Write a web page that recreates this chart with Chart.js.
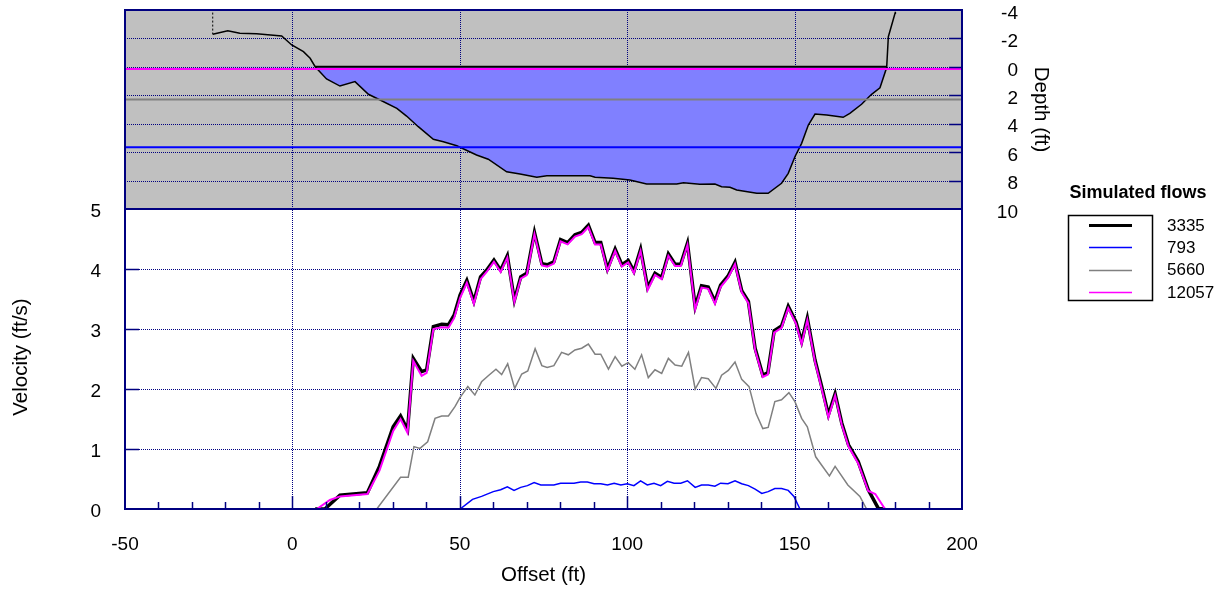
<!DOCTYPE html>
<html>
<head>
<meta charset="utf-8">
<script src="https://cdn.jsdelivr.net/npm/chart.js@4.4.0/dist/chart.umd.min.js"></script>
<style>
html,body{margin:0;padding:0;background:#fff;}
#wrap{position:relative;width:1228px;height:590px;}
</style>
</head>
<body>
<div id="wrap"><canvas id="c" width="1228" height="590"></canvas></div>
<script>
// ---------------- DATA ----------------
const flowLabels = ['3335', '793', '5660', '12057'];
const flowColors = ['#000000', '#0000FF', '#808080', '#FF00FF'];

// Cross-section bed profile (offset ft, depth ft)
const bedOffset = [-23.8, -19.3, -15.7, -10.7, -3.2, -0.2, 3.3, 5.3, 6.8, 10.2,
  14.2, 18.7, 22.7, 26.2, 31.2, 34.1, 37.6, 42.1, 45.1, 49.1,
  55.0, 58.5, 64.0, 68.0, 73.0, 76.0, 88.9, 90.4, 95.8, 100.8,
  105.8, 114.8, 116.8, 121.7, 126.2, 128.2, 130.7, 132.7, 138.7, 142.1,
  146.1, 148.1, 150.1, 152.1, 154.1, 156.1, 159.6, 164.5, 166.5, 170.0,
  173.0, 175.5, 177.5, 178.0, 180.0, 180.1];
const bedDepth = [-2.29, -2.54, -2.36, -2.33, -2.17, -1.54, -1.07, -0.60, -0.01, 0.85,
  1.35, 1.04, 1.93, 2.33, 2.92, 3.46, 4.21, 5.10, 5.27, 5.55,
  6.20, 6.50, 7.38, 7.54, 7.77, 7.66, 7.66, 7.77, 7.84, 7.96,
  8.24, 8.24, 8.15, 8.26, 8.24, 8.43, 8.47, 8.66, 8.90, 8.90,
  8.19, 7.49, 6.32, 5.38, 4.09, 3.32, 3.39, 3.55, 3.27, 2.63,
  1.93, 1.47, 0.05, -2.12, -3.77, -3.88];

// Left bank marker (dotted)
const bankOffset = [-23.8, -23.8];
const bankDepth = [-4.1, -2.29];

// Water surface depths
const wsEdges3335 = [6.8, 177.5];
const ws3335 = 0;
const ws793 = 5.65;
const ws5660 = 2.3;
const ws12057 = 0.15;
const fullSpan = [-50, 200];

// Velocities
const velX3335 = [6.8, 9.7, 14.2, 22.4, 26.0, 30.1, 32.3, 34.4, 36.1, 38.6,
  40.1, 42.1, 44.6, 46.6, 48.3, 50.1, 52.1, 54.2, 56.2, 58.0,
  60.2, 62.2, 64.2, 66.3, 68.2, 70.0, 72.3, 74.5, 76.1, 78.1,
  80.1, 82.2, 84.4, 86.4, 88.4, 90.4, 92.1, 94.1, 96.4, 98.4,
  100.3, 102.0, 104.0, 106.1, 108.3, 110.3, 112.3, 114.3, 116.0, 118.0,
  120.3, 122.2, 124.2, 126.2, 127.9, 130.1, 132.2, 134.2, 136.2, 138.2,
  140.5, 142.0, 143.9, 146.1, 148.1, 150.4, 152.1, 153.8, 156.1, 158.1,
  160.1, 162.1, 164.1, 166.1, 169.0, 172.0, 175.0, 177.0];
const vel3335 = [0, 0, 0.23, 0.27, 0.71, 1.37, 1.55, 1.32, 2.51, 2.29,
  2.32, 3.04, 3.08, 3.07, 3.23, 3.57, 3.81, 3.46, 3.87, 3.98,
  4.15, 3.98, 4.22, 3.48, 3.87, 3.93, 4.61, 4.09, 4.07, 4.12,
  4.49, 4.44, 4.57, 4.61, 4.73, 4.44, 4.44, 4.00, 4.33, 4.07,
  4.14, 3.96, 4.33, 3.69, 3.93, 3.86, 4.25, 4.08, 4.08, 4.43,
  3.37, 3.72, 3.70, 3.46, 3.73, 3.88, 4.11, 3.64, 3.46, 2.68,
  2.23, 2.27, 2.97, 3.05, 3.38, 3.12, 2.79, 3.18, 2.48, 2.04,
  1.57, 1.92, 1.43, 1.07, 0.79, 0.32, 0.01, 0];

const velX12057 = [7.3, 11.2, 14.2, 22.4, 26.0, 30.1, 32.3, 34.4, 36.1, 38.6,
  40.1, 42.1, 44.6, 46.6, 48.3, 50.1, 52.1, 54.2, 56.2, 58.0,
  60.2, 62.2, 64.2, 66.3, 68.2, 70.0, 72.3, 74.5, 76.1, 78.1,
  80.1, 82.2, 84.4, 86.4, 88.4, 90.4, 92.1, 94.1, 96.4, 98.4,
  100.3, 102.0, 104.0, 106.1, 108.3, 110.3, 112.3, 114.3, 116.0, 118.0,
  120.3, 122.2, 124.2, 126.2, 127.9, 130.1, 132.2, 134.2, 136.2, 138.2,
  140.5, 142.0, 143.9, 146.1, 148.1, 150.4, 152.1, 153.8, 156.1, 158.1,
  160.1, 162.1, 164.1, 166.1, 169.0, 172.0, 174.1, 177.0];
const vel12057 = [0, 0.15, 0.21, 0.25, 0.64, 1.30, 1.50, 1.27, 2.47, 2.22,
  2.27, 3.00, 3.03, 3.02, 3.18, 3.52, 3.77, 3.42, 3.83, 3.95,
  4.12, 3.95, 4.19, 3.45, 3.84, 3.90, 4.58, 4.06, 4.04, 4.09,
  4.46, 4.41, 4.54, 4.58, 4.70, 4.41, 4.41, 3.97, 4.30, 4.04,
  4.11, 3.93, 4.30, 3.65, 3.90, 3.83, 4.22, 4.05, 4.05, 4.40,
  3.33, 3.69, 3.67, 3.42, 3.70, 3.85, 4.08, 3.61, 3.43, 2.65,
  2.20, 2.24, 2.94, 3.02, 3.35, 3.09, 2.75, 3.15, 2.45, 2.00,
  1.53, 1.89, 1.40, 1.04, 0.76, 0.30, 0.25, 0];

const velX5660 = [25.2, 32.3, 34.6, 36.3, 38.1, 40.4, 42.6, 44.6, 46.6, 48.6,
  50.1, 52.4, 54.5, 56.5, 58.5, 60.8, 62.5, 64.3, 66.4, 68.5,
  70.3, 72.5, 74.5, 76.1, 78.1, 80.4, 82.4, 84.4, 86.4, 88.4,
  90.4, 92.1, 94.4, 96.4, 98.4, 100.3, 102.3, 104.3, 106.3, 108.3,
  110.3, 112.3, 114.3, 116.3, 118.3, 120.3, 122.2, 124.2, 126.5, 128.2,
  130.2, 132.2, 134.2, 136.4, 138.5, 140.5, 142.1, 144.1, 146.1, 148.3,
  150.1, 152.1, 153.8, 156.3, 158.1, 160.4, 162.1, 165.9, 169.5, 171.5];
const vel5660 = [0, 0.53, 0.53, 1.04, 1.01, 1.12, 1.51, 1.55, 1.55, 1.71,
  1.86, 2.04, 1.90, 2.12, 2.22, 2.33, 2.24, 2.42, 2.01, 2.25,
  2.30, 2.67, 2.39, 2.36, 2.39, 2.61, 2.57, 2.65, 2.68, 2.75,
  2.58, 2.58, 2.33, 2.54, 2.38, 2.44, 2.33, 2.57, 2.19, 2.32,
  2.26, 2.51, 2.40, 2.38, 2.61, 2.00, 2.19, 2.17, 2.01, 2.23,
  2.31, 2.45, 2.16, 2.04, 1.59, 1.34, 1.36, 1.79, 1.82, 1.94,
  1.79, 1.51, 1.37, 0.87, 0.73, 0.55, 0.71, 0.40, 0.21, 0];

const velX793 = [50.1, 53.8, 56.5, 60.0, 62.2, 64.2, 66.2, 68.2, 70.2, 72.2,
  74.2, 76.2, 78.1, 80.1, 82.1, 84.1, 86.1, 88.1, 90.1, 92.1,
  94.1, 96.1, 98.1, 100.0, 102.0, 104.0, 106.0, 108.0, 110.0, 112.0,
  114.0, 116.0, 118.0, 120.3, 122.2, 124.2, 126.2, 127.9, 130.1, 132.2,
  134.2, 136.2, 138.2, 140.2, 142.1, 144.1, 146.1, 148.1, 149.8, 151.6];
const vel793 = [0, 0.16, 0.21, 0.29, 0.32, 0.37, 0.31, 0.36, 0.39, 0.44,
  0.40, 0.40, 0.40, 0.43, 0.43, 0.43, 0.45, 0.45, 0.42, 0.42,
  0.40, 0.43, 0.40, 0.42, 0.39, 0.47, 0.40, 0.43, 0.39, 0.46,
  0.43, 0.43, 0.47, 0.36, 0.40, 0.40, 0.38, 0.43, 0.42, 0.47,
  0.42, 0.39, 0.33, 0.26, 0.29, 0.34, 0.34, 0.31, 0.21, 0];

// Tick labels / grid values
const xTickLabels = [-50, 0, 50, 100, 150, 200];
const xGridLines = [0, 50, 100, 150];
const velTickLabels = [0, 1, 2, 3, 4, 5];
const velGridLines = [1, 2, 3, 4];
const depthTickLabels = [-4, -2, 0, 2, 4, 6, 8, 10];
const depthGridLines = [-2, 0, 2, 4, 6, 8];

// ---------------- LAYOUT ----------------
const FONT = "'Liberation Sans', Arial, Helvetica, sans-serif";
const NAVY = '#000080';
const lowerFrac = 300 / 499; // velocity panel share of plot height
const upperFrac = 199 / 499; // depth panel share
const velMax = 5 / lowerFrac;
const depthMin = -4;
const depthMax = depthMin + 14 / upperFrac;

const xy = (xs, ys) => xs.map((v, i) => ({x: v, y: ys[i]}));

const datasets = [
  { label: 'bed', data: xy(bedOffset, bedDepth), yAxisID: 'yd', borderColor: '#000', borderWidth: 1.5,
    fill: { target: { value: ws3335 }, above: 'rgba(0,0,0,0)', below: '#8080FF' }, order: 20 },
  { label: 'bank', data: xy(bankOffset, bankDepth), yAxisID: 'yd', borderColor: '#000', borderWidth: 1,
    borderDash: [2, 2], fill: false, order: 19 },
  { label: 'ws793', data: xy(fullSpan, [ws793, ws793]), yAxisID: 'yd', borderColor: flowColors[1], borderWidth: 2, fill: false, order: 18 },
  { label: 'ws5660', data: xy(fullSpan, [ws5660, ws5660]), yAxisID: 'yd', borderColor: flowColors[2], borderWidth: 2, fill: false, order: 17 },
  { label: 'ws12057', data: xy(fullSpan, [ws12057, ws12057]), yAxisID: 'yd', borderColor: flowColors[3], borderWidth: 2, fill: false, order: 16 },
  { label: 'ws3335', data: xy(wsEdges3335, [ws3335, ws3335]), yAxisID: 'yd', borderColor: flowColors[0], borderWidth: 2, fill: false, order: 15 },
  { label: flowLabels[2], data: xy(velX5660, vel5660), yAxisID: 'yv', borderColor: flowColors[2], borderWidth: 1.5, fill: false, order: 6 },
  { label: flowLabels[1], data: xy(velX793, vel793), yAxisID: 'yv', borderColor: flowColors[1], borderWidth: 1.5, fill: false, order: 5 },
  { label: flowLabels[0], data: xy(velX3335, vel3335), yAxisID: 'yv', borderColor: flowColors[0], borderWidth: 3.5, fill: false, order: 4 },
  { label: flowLabels[3], data: xy(velX12057, vel12057), yAxisID: 'yv', borderColor: flowColors[3], borderWidth: 2, fill: false, order: 3 }
];

function seg(ctx, x1, y1, x2, y2) { ctx.beginPath(); ctx.moveTo(x1, y1); ctx.lineTo(x2, y2); ctx.stroke(); }

const panelPlugin = {
  id: 'panels',
  beforeDatasetsDraw(chart) {
    const {ctx, chartArea: a, scales: {x, yv, yd}} = chart;
    const ySplit = yv.getPixelForValue(5);
    ctx.save();
    ctx.fillStyle = '#C0C0C0';
    ctx.fillRect(a.left, a.top, a.right - a.left, ySplit - a.top);
    ctx.strokeStyle = NAVY; ctx.lineWidth = 1; ctx.setLineDash([1, 1]);
    xGridLines.forEach(v => { const p = Math.round(x.getPixelForValue(v)) + 0.5; seg(ctx, p, a.top, p, a.bottom); });
    velGridLines.forEach(v => { const p = Math.round(yv.getPixelForValue(v)) + 0.5; seg(ctx, a.left, p, a.right, p); });
    depthGridLines.forEach(v => { const p = Math.round(yd.getPixelForValue(v)) + 0.5; seg(ctx, a.left, p, a.right, p); });
    ctx.restore();
  },
  afterDatasetsDraw(chart) {
    const {ctx, chartArea: a, scales: {x, yv, yd}} = chart;
    const ySplit = yv.getPixelForValue(5);
    ctx.save();
    ctx.strokeStyle = NAVY; ctx.lineWidth = 1.5; ctx.setLineDash([]);
    // x ticks (inward)
    for (let v = -40; v < 200; v += 10) {
      const p = Math.round(x.getPixelForValue(v)) + 0.5;
      const len = (v % 50 === 0) ? 13 : 7;
      seg(ctx, p, a.bottom, p, a.bottom - len);
    }
    velGridLines.forEach(v => { const p = Math.round(yv.getPixelForValue(v)) + 0.5; seg(ctx, a.left, p, a.left + 14, p); });
    depthGridLines.forEach(v => { const p = Math.round(yd.getPixelForValue(v)) + 0.5; seg(ctx, a.right - 13, p, a.right, p); });
    // frames
    ctx.lineWidth = 2;
    ctx.strokeRect(a.left, a.top, a.right - a.left, ySplit - a.top);
    ctx.strokeRect(a.left, ySplit, a.right - a.left, a.bottom - ySplit);
    ctx.restore();
  },
  afterDraw(chart) {
    const {ctx, chartArea: a, scales: {yv}} = chart;
    const ySplit = yv.getPixelForValue(5);
    ctx.save();
    ctx.fillStyle = '#000';
    ctx.font = '20.5px ' + FONT;
    ctx.textAlign = 'center'; ctx.textBaseline = 'middle';
    ctx.fillText('Offset (ft)', (a.left + a.right) / 2, 575);
    ctx.save();
    ctx.translate(21, (ySplit + a.bottom) / 2 - 2);
    ctx.rotate(-Math.PI / 2);
    ctx.fillText('Velocity (ft/s)', 0, 0);
    ctx.restore();
    ctx.save();
    ctx.translate(1041, (a.top + ySplit) / 2);
    ctx.rotate(Math.PI / 2);
    ctx.fillText('Depth (ft)', 0, 0);
    ctx.restore();
    // legend
    ctx.font = 'bold 18px ' + FONT;
    ctx.fillText('Simulated flows', 1138, 193);
    ctx.strokeStyle = '#000'; ctx.lineWidth = 1.5;
    ctx.strokeRect(1068.5, 215.5, 84, 85);
    ctx.font = '17px ' + FONT;
    ctx.textAlign = 'left';
    const widths = [3, 1.5, 1.5, 1.5];
    flowLabels.forEach((lab, i) => {
      const yy = 225 + i * 22.4;
      ctx.strokeStyle = flowColors[i]; ctx.lineWidth = widths[i];
      seg(ctx, 1089, Math.round(yy) + 0.5, 1132, Math.round(yy) + 0.5);
      ctx.fillText(lab, 1167, yy + 1);
    });
    ctx.restore();
  }
};

const tickFont = { family: FONT, size: 19, lineHeight: 1 };
const hiddenTicks = (len) => ({ display: false, drawTicks: true, tickLength: len, tickColor: 'rgba(0,0,0,0)' });

new Chart(document.getElementById('c'), {
  type: 'line',
  data: { datasets },
  options: {
    responsive: false,
    animation: false,
    devicePixelRatio: 1,
    layout: { padding: { top: 10, left: 0, right: 210, bottom: 0 } },
    elements: { point: { radius: 0 }, line: { tension: 0 } },
    plugins: { legend: { display: false }, tooltip: { enabled: false } },
    scales: {
      x: {
        type: 'linear', position: 'bottom', min: -50, max: 200,
        grid: hiddenTicks(26), border: { display: false },
        ticks: { stepSize: 10, autoSkip: false, maxRotation: 0, padding: 0, color: '#000', font: tickFont,
          callback: v => xTickLabels.includes(v) ? String(v) : null },
        afterFit: s => { s.height = 81; }
      },
      yv: {
        type: 'linear', position: 'left', min: 0, max: velMax,
        grid: hiddenTicks(24), border: { display: false },
        ticks: { stepSize: 1, autoSkip: false, padding: 0, labelOffset: 3, color: '#000', font: tickFont,
          callback: v => velTickLabels.includes(v) ? String(v) : null },
        afterFit: s => { s.width = 125; }
      },
      yd: {
        type: 'linear', position: 'right', reverse: true, min: depthMin, max: depthMax,
        grid: hiddenTicks(10), border: { display: false },
        ticks: { stepSize: 2, autoSkip: false, padding: 0, crossAlign: 'far', labelOffset: 3.5, color: '#000', font: tickFont,
          callback: v => depthTickLabels.includes(v) ? String(v) : null },
        afterFit: s => { s.width = 56; }
      }
    }
  },
  plugins: [panelPlugin]
});
</script>
</body>
</html>
